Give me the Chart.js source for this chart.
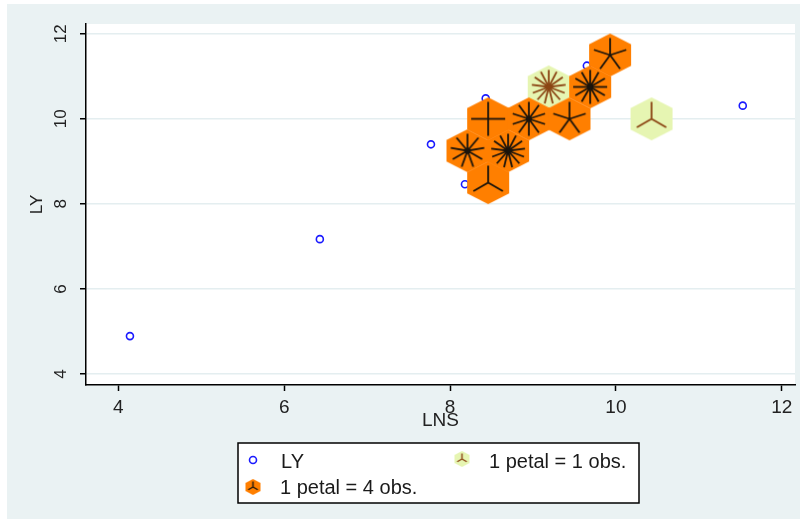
<!DOCTYPE html>
<html>
<head>
<meta charset="utf-8">
<title>LY vs LNS sunflower plot</title>
<script src="https://cdn.jsdelivr.net/npm/chart.js@4.4.1/dist/chart.umd.min.js"></script>
<style>
  html, body { margin: 0; padding: 0; background: #fff; }
  #wrap { position: relative; width: 804px; height: 524px; }
</style>
</head>
<body>
<div id="wrap"><canvas id="sunflowerChart" width="804" height="524"></canvas></div>
<script>
// single observations (plotted as hollow circles)
const lnsSingle = [4.14, 6.43, 7.77, 8.18, 8.43, 9.65, 11.53];
const lySingle = [4.89, 7.17, 9.40, 8.46, 10.48, 11.25, 10.31];

// light sunflowers: 1 petal = 1 obs.
const lightX = [9.19, 10.43];
const lightY = [10.75, 10.0];
const lightPetals = [13, 3];

// dark sunflowers: 1 petal = 4 obs.
const darkX = [9.93, 9.69, 8.46, 8.95, 9.44, 8.21, 8.70, 8.46];
const darkY = [11.5, 10.75, 10.0, 10.0, 10.0, 9.25, 9.25, 8.5];
const darkPetals = [5, 12, 4, 10, 5, 9, 13, 3];

const xTicks = [4, 6, 8, 10, 12];
const yTicks = [4, 6, 8, 10, 12];
const legendLabels = ["LY", "1 petal = 1 obs.", "1 petal = 4 obs."];

const FONT = "'Liberation Sans', Arial, Helvetica, sans-serif";
const BG = "#eaf2f3";
const ORANGE = "#ff7f00";
const LIGHT = "#e6f5b2";
const DARK_PETAL = "#1a140c";
const LIGHT_PETAL = "#8b4513";
const BLUE = "#1a1aff";

// hexagon with petals, used as a point style
function sunflower(petals, fill, petalColor, halfW, halfH, petalLen, lineW) {
  const c = document.createElement("canvas");
  const w = Math.ceil(halfW * 2 + 2);
  const h = Math.ceil(halfH * 2 + 2);
  c.width = w;
  c.height = h;
  const ctx = c.getContext("2d");
  const cx = w / 2;
  const cy = h / 2;
  ctx.fillStyle = fill;
  ctx.beginPath();
  ctx.moveTo(cx, cy - halfH);
  ctx.lineTo(cx + halfW, cy - halfH / 2);
  ctx.lineTo(cx + halfW, cy + halfH / 2);
  ctx.lineTo(cx, cy + halfH);
  ctx.lineTo(cx - halfW, cy + halfH / 2);
  ctx.lineTo(cx - halfW, cy - halfH / 2);
  ctx.closePath();
  ctx.fill();

  ctx.strokeStyle = petalColor;
  ctx.lineWidth = lineW;
  ctx.lineCap = "butt";
  for (let k = 0; k < petals; k++) {
    const a = Math.PI / 2 + (k * 2 * Math.PI) / petals;
    ctx.beginPath();
    ctx.moveTo(cx, cy);
    ctx.lineTo(cx + Math.cos(a) * petalLen, cy - Math.sin(a) * petalLen);
    ctx.stroke();
  }
  if (petals > 5) {
    ctx.fillStyle = petalColor;
    ctx.beginPath();
    ctx.arc(cx, cy, 3, 0, Math.PI * 2);
    ctx.fill();
  }
  return c;
}

const lightFlowers = lightPetals.map((n) => sunflower(n, LIGHT, LIGHT_PETAL, 21, 21.5, 17, 1.8));
const darkFlowers = darkPetals.map((n) => sunflower(n, ORANGE, DARK_PETAL, 21, 21.5, 17, 1.8));

const toPoints = (xs, ys) => xs.map((x, i) => ({ x, y: ys[i] }));

const backdrop = {
  id: "backdrop",
  beforeDraw(chart) {
    const { ctx, chartArea: a } = chart;
    ctx.save();
    ctx.fillStyle = "#ffffff";
    ctx.fillRect(0, 0, chart.width, chart.height);
    ctx.fillStyle = BG;
    ctx.fillRect(7, 4, chart.width - 11, chart.height - 9);
    ctx.fillStyle = "#ffffff";
    ctx.fillRect(a.left, a.top, a.right - a.left, a.bottom - a.top);
    ctx.restore();
  },
};

const legendBox = {
  id: "legendBox",
  afterDraw(chart) {
    const { ctx, chartArea: a } = chart;
    const cx = (a.left + a.right) / 2;
    const left = Math.round(cx - 202.5);
    const top = 443;
    ctx.save();
    ctx.fillStyle = "#ffffff";
    ctx.fillRect(left, top, 401, 60);
    ctx.strokeStyle = "#000";
    ctx.lineWidth = 1.5;
    ctx.strokeRect(left, top, 401, 60);

    // LY marker
    ctx.strokeStyle = BLUE;
    ctx.lineWidth = 1.6;
    ctx.beginPath();
    ctx.arc(left + 15, top + 17, 3.5, 0, Math.PI * 2);
    ctx.stroke();

    const lightIcon = sunflower(3, LIGHT, LIGHT_PETAL, 7.5, 8, 5.5, 1.4);
    const darkIcon = sunflower(3, ORANGE, DARK_PETAL, 7.5, 8, 5.5, 1.4);
    ctx.drawImage(lightIcon, left + 224 - lightIcon.width / 2, top + 16 - lightIcon.height / 2);
    ctx.drawImage(darkIcon, left + 15 - darkIcon.width / 2, top + 44 - darkIcon.height / 2);

    ctx.fillStyle = "#1a1a1a";
    ctx.font = "20px " + FONT;
    ctx.textBaseline = "middle";
    ctx.textAlign = "left";
    ctx.fillText(legendLabels[0], left + 43, top + 19);
    ctx.fillText(legendLabels[1], left + 251, top + 19);
    ctx.fillText(legendLabels[2], left + 42, top + 45);
    ctx.restore();
  },
};

new Chart(document.getElementById("sunflowerChart"), {
  type: "scatter",
  data: {
    datasets: [
      {
        label: legendLabels[0],
        data: toPoints(lnsSingle, lySingle),
        pointStyle: "circle",
        pointRadius: 3.5,
        borderColor: BLUE,
        borderWidth: 1.6,
        backgroundColor: "rgba(0,0,0,0)",
        order: 3,
      },
      {
        label: legendLabels[1],
        data: toPoints(lightX, lightY),
        pointStyle: (c) => lightFlowers[c.dataIndex],
        pointRadius: 21,
        order: 2,
      },
      {
        label: legendLabels[2],
        data: toPoints(darkX, darkY),
        pointStyle: (c) => darkFlowers[c.dataIndex],
        pointRadius: 21,
        order: 1,
      },
    ],
  },
  options: {
    responsive: false,
    animation: false,
    events: [],
    layout: { autoPadding: false, padding: { top: 24, right: 9, left: 0, bottom: 0 } },
    plugins: {
      legend: { display: false },
      tooltip: { enabled: false },
    },
    scales: {
      x: {
        type: "linear",
        min: 3.61,
        max: 12.16,
        afterBuildTicks: (s) => { s.ticks = xTicks.map((v) => ({ value: v })); },
        afterFit: (s) => { s.height = 139; s.paddingLeft = 0; s.paddingRight = 0; },
        border: { color: "#000", width: 1.5 },
        grid: { drawOnChartArea: false, drawTicks: true, tickLength: 6, tickColor: "#000", tickWidth: 1.5 },
        ticks: { color: "#222", padding: 5, font: { family: FONT, size: 19 }, maxRotation: 0 },
        title: { display: true, text: "LNS", color: "#222", font: { family: FONT, size: 19 }, padding: { top: 0, bottom: 92 } },
      },
      y: {
        type: "linear",
        min: 3.74,
        max: 12.23,
        afterBuildTicks: (s) => { s.ticks = yTicks.map((v) => ({ value: v })); },
        afterFit: (s) => { s.width = 86; s.paddingTop = 0; s.paddingBottom = 0; },
        border: { color: "#000", width: 1.5 },
        grid: { color: "#e4eef0", lineWidth: 1.5, tickLength: 6, tickColor: "#000", tickWidth: 1.5 },
        ticks: { color: "#222", padding: 9, crossAlign: "center", minRotation: 90, maxRotation: 90, font: { family: FONT, size: 17 } },
        title: { display: true, text: "LY", color: "#222", font: { family: FONT, size: 17 }, padding: { top: 27, bottom: 0 } },
      },
    },
  },
  plugins: [backdrop, legendBox],
});
</script>
</body>
</html>
